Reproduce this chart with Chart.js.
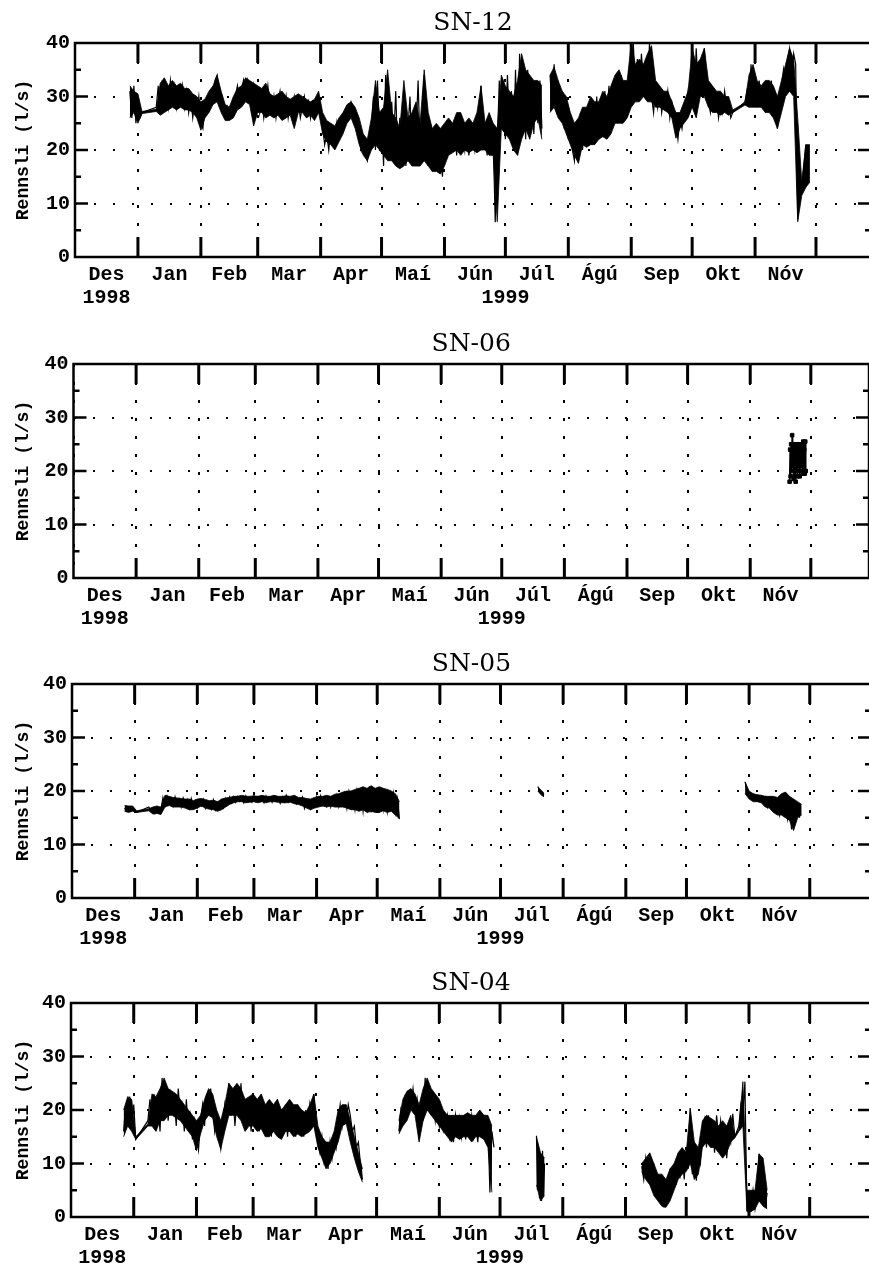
<!DOCTYPE html>
<html><head><meta charset="utf-8">
<script src="https://cdn.jsdelivr.net/npm/chart.js@4.4.1/dist/chart.umd.min.js"></script>
<style>
html,body{margin:0;padding:0;background:#fff;overflow:hidden;width:869px;height:1263px;position:relative}
.panel{position:absolute;left:0;width:874px;height:313px}
</style></head><body>
<div class="panel" style="top:0px"><canvas id="c0"></canvas></div>
<div class="panel" style="top:321px"><canvas id="c1"></canvas></div>
<div class="panel" style="top:641px"><canvas id="c2"></canvas></div>
<div class="panel" style="top:960px"><canvas id="c3"></canvas></div>
<script>
// ---- axis data (x = days since 1 Dec 1998) ----
const monthStarts = [0,31,62,90,121,151,182,212,243,274,304,335,365];
const monthLabels = ['Des','Jan','Feb','Mar','Apr','Maí','Jún','Júl','Ágú','Sep','Okt','Nóv'];
const yearLabels = ['1998','1999'];
const yearDays = [15.5, 212];
const yMajorTicks = [10,20,30];
const yMinorTicks = [5,15,25,35];
const titles = ['SN-12','SN-06','SN-05','SN-04'];
const yTitle = 'Rennsli (l/s)';

// ================= SN-12 =================
// dense core of the trace: upper / lower envelope every 2 days
const sn12BandStart = [27, 40, 234, 330];
const sn12BandStep  = [2, 2, 2, 2];
const sn12BandJoin  = [false, true, false, true];
const sn12HiA = [32,31,30.5,27.2];
const sn12LoA = [26,27,25,26.8];
const sn12HiB = [27.6,32.5,33.5,32,33,32,32.5,31.5,31.5,30.5,
 30,29,29.5,31,32,34,31,28.5,28,30,
 31.5,32,33.5,33,32.5,32,31.5,32.5,30.5,30,
 30.5,31,30,29.5,30,30.5,30,29.5,29,29.5,
 31,27,25.5,25,24.5,26,27,28.5,29,28,
 26,23,22,26,33,27,28,35,27,26,
 24,33,26,27,29,25,35,27,24,25,
 24,25,26,25,27,27,25,26,25,27,
 32,25,27,25,24,34,32,31,30,33,
 38,35,34,33,33,32];
const sn12LoB = [27.2,26.5,27,27.5,28,27.5,28,27.5,27.5,27,
 26,23.7,26,27,28.5,29,27,25.5,25.5,26,
 27.5,28,29,28.5,24.5,27,27,26,26.5,26,
 26.5,25.5,26,26.5,24,27,27,26,26.5,25.5,
 27,23,21.5,21,20,21.5,23,25,26,24,
 21,19,18,20,21,20,19,18,18,17,
 16.5,17,18,17,17,17,18,17,16,16,
 15.5,17,19,19.5,20,19,20,19.5,20,19.5,
 20,20,19,19,6.6,24,23,22,20,19,
 22,24,22,25,26,22];
const sn12HiC = [34,35.5,33,31,30,27,25,26,28,28,
 30,29,29,31,30,32,34,35,33,33,
 40,36,37,36,38,39.5,33,32,31,31,
 29,27,27,29,31,39,36,37,39,33,
 32,31,31,30,30,27.5];
const sn12LoC = [27,28,26,25,23,21,19,17.5,21,20.5,
 21,21,22,22.5,22,23,25,25,25,26,
 28,29,29,30,29,29,28,28,27.5,27,
 26,22.2,24,25,26,28,26,30,30,28,
 27,27,26.5,27,26.5,27];
const sn12HiD = [28.8,34,36,33,32,33,33,32,30,33,36,39,37,26,14,21,21];
const sn12LoD = [28.4,28,28,28,28,27,27,26,24,27,30,31,30,6.6,11.5,13,14];
// daily readings (spikes of the trace)
const sn12TraceStart = [27, 40, 234, 330];
const sn12TraceStep  = [1, 1, 1, 1];
const sn12TraceJoin  = [false, true, false, true];
const sn12DayA = [31,26,32,25,30,26,27];
const sn12DayB = [28,32,27,33,29,31,28,33,30,32,28,31,29,32,28,31,
 27,30,26,29,27,30,25,24,28,27,
 29,31,30,33,34,31,29,
 27,26,28,26,27,29,
 30,32,29,31,33,30,33,31,29,32,
 28,31,27,30,26,29,32,28,27,30,26,29,31,28,27,30,26,29,28,30,27,29,26,
 28,30,27,29,26,29,28,27,30,28,
 24,21,23,20,24,22,21,25,22,23,24,
 26,28,27,29,28,27,25,
 23,20,22,19,18,21,
 24,30,20,33,22,27,17,34,25,19,29,22,31,18,26,21,28,17,24,30,19,27,23,33,20,26,34,22,17,24,16,
 22,18,24,20,15,23,19,25,21,20,24,19,26,21,23,20,25,19,22,24,20,23,21,32,20,24,19,23,20,22,6.5,
 21,33,24,30,22,34,25,31,21,35,19,38,24,32,22,35,26,33,23,31,25,33,24];
const sn12DayC = [34,28,36,29,33,27,31,
 24,28,22,26,20,18,25,21,27,20,25,21,
 27,22,29,23,30,22,28,24,31,25,32,26,30,25,33,27,34,28,32,27,35,
 31,40,32,37,30,38,33,36,31,40,
 30,27,32,28,31,27,30,28,31,26,29,27,
 25,22,26,24,27,
 28,31,27,34,29,39,31,36,30,39,32,
 29,27,31,28,30,26,29,27,31,28,29,26,27];
const sn12DayD = [29,31,28,36,29,32,28,33,29,31,
 28,32,27,33,28,30,24,29,
 32,35,31,37,39,34,38,36,
 7,12,13,17,21,14];

// ================= SN-06 =================
const sn06Start = [354.5];
const sn06Step  = [0.25];
const sn06Join  = [false];
const sn06a = [18,24,19,25,20,26.7,21,24,18.5,25,19,23,18,25,20,24,19,25,21,23,19,25,20,24,21,25,19.5,25.5,20,24,19.5,25.5,20];

// ================= SN-05 =================
const sn05BandStart = [26, 38, 230.5, 333];
const sn05BandStep  = [2, 2, 1.5, 2];
const sn05BandJoin  = [false, true, false, false];
const sn05HiA = [17.3,17.2,17.2,16.3];
const sn05LoA = [16.2,16,16.2,16.0];
const sn05HiB = [16.7,17,17.2,17,19.2,19,18.8,18.7,18.6,18.5,
 18.5,18.2,18.5,18.6,18.4,18.2,18.3,18,18.5,18.7,
 18.8,19,19,19.2,19,19,19.1,19,19.2,19,
 19,19.2,19,19,19.1,19,19.2,18.8,18.8,18.6,
 18.5,18.8,19,19,19.2,19,19.4,19.5,19.8,20,
 20,20.3,20.5,20.8,20.5,21,20.5,20.8,20.5,20.3,
 20,19.5,18];
const sn05LoB = [16.3,15.7,15.8,15.6,17,17.3,17,17,17,16.8,
 16.5,16.5,16.8,17.2,16.8,16.6,16.5,16.2,16.5,17,
 17.5,17.8,18,18,17.8,17.9,18,17.8,18,17.8,
 18,18,17.9,17.8,17.8,17.9,17.6,17.5,17.2,16.8,
 16.5,16.8,17,17.2,17,17.2,17,17,17,16.8,
 16.5,16.5,16.2,16.5,16,16.2,16,16,16.3,16,
 16.2,15.5,14.8];
const sn05HiC = [20.8,20.2,19.6];
const sn05LoC = [20.0,19.3,18.9];
const sn05HiD = [21.7,20,19.5,19.3,19.2,19,19,19,18.8,19.5,19.8,19,18.5,18,17.5];
const sn05LoD = [19.5,18.5,18,18,17.8,17,16.8,16,15.5,15.5,15,14.5,12.6,15,15.5];
const sn05TraceStart = [26, 38, 230.5, 333];
const sn05TraceStep  = [1, 1, 1, 1];
const sn05TraceJoin  = [false, true, false, false];
const sn05DayA = [16.8,16.3,17.0,16.5,16.9,16.2,16.0];
const sn05DayB = [17.0,16.2,16.8,15.8,16.9,16.0,16.5,
 18.8,17.3,19.0,17.5,18.6,17.2,18.9,17.4,18.5,17.0,18.7,17.6,18.4,16.8,18.6,17.3,18.2,16.9,18.0,
 17.2,18.4,16.8,18.1,17.5,16.6,18.3,16.5,17.9,17.0,18.2,16.9,18.6,17.6,18.9,17.8,
 18.9,17.9,19.0,18.1,18.8,17.8,19.1,18.2,18.7,17.9,19.0,18.0,18.9,18.2,18.6,17.8,19.1,18.3,18.8,17.9,19.0,18.1,18.7,17.7,18.9,18.0,19.2,17.9,18.6,18.2,18.8,17.6,18.5,
 17.5,18.8,16.8,18.3,17.2,16.6,18.0,17.3,18.9,17.6,19.1,17.4,18.7,17.2,18.5,17.0,18.8,
 17.4,19.2,17.1,18.9,17.5,19.5,16.8,19.8,17.2,19.0,16.5,20.0,17.0,19.6,16.2,20.3,
 16.8,20.8,16.0,19.5,17.3,20.5,15.9,19.8,16.6,20.2,16.2,19.3,17.0,19.6,16.0,18.5,14.8];
const sn05DayC = [20.8,20.0,19.6,19.2];
const sn05DayD = [21.7,20.2,19.5,18.6,19.4,18.5,19.2,18.3,19.0,17.6,18.8,17.0,18.5,16.8,18.0,16.3,17.8,15.5,17.9,16.0,18.6,14.8,17.5,12.8,17.2,14.5,16.8,15.0];

// ================= SN-04 =================
const sn04BandStart = [26, 38, 162, 230, 282, 330];
const sn04BandStep  = [2, 2, 2, 2, 2, 2];
const sn04BandJoin  = [false, true, false, false, false, true];
const sn04HiA = [20,22.5,22,15];
const sn04LoA = [15,17,16,14.5];
const sn04HiB = [17.4,23,22.5,24,26,24,23.5,23,22,21,
 20,19,18,19,22,24,23,20,18,21,
 25,24,25,24,22,22.5,23,22,23,21,
 22,21,22,20,21,22,21,21,20,19.5,
 21,23,17,15,14,14,16,20,21,21,
 18,15,12,9];
const sn04LoB = [17,17,16,18,18,19,19,18.5,18,17,
 16,15,12.4,15.5,18,19,18.5,15,12.7,16,
 19,19,19,18,16,17,17,16,16.5,15,
 15,16,15,14.5,16,16,15,15.5,15,15.5,
 16,17,13,11,9,10,12,14,17,17.5,
 14,11,8.5,6.5];
const sn04HiC = [18,22,23.5,24,23,21,24,26,24,23,
 22,20,19,19,19,19,19,19.5,19,19,
 20,19,19,17];
const sn04LoC = [15.5,17,18,20,19,14,18,20,19,18,
 17,16,15,14,15,14.5,15,15,14,15,
 15,14.5,13,4.6];
const sn04HiD = [15,12,11];
const sn04LoD = [6,3,4];
const sn04HiE = [10,11,12,10,8,8,7,9,10,12,
 13,12,20.3,14,13,18,19,18.5,18,17,
 18,17,19,15.2];
const sn04LoE = [8.5,7,6,4,3,2,1.8,3,5,7,
 8,8.5,10,7,8,13,14,13,13,12,
 11,12,14,14.8];
const sn04HiF = [16.4,25.3,5,5,5,11.8,11,5];
const sn04LoF = [16,17,1,1,1.5,3,2,1.5];
const sn04TraceStart = [26, 38, 162, 230, 282, 330];
const sn04TraceStep  = [1, 1, 1, 0.5, 1, 1];
const sn04TraceJoin  = [false, true, false, false, false, true];
const sn04DayA = [16,21,17,22.5,18,21,14.5];
const sn04DayB = [18,22,17,23,19,21,16,26,19,24,18,23,20,22,17,24,19,21,16,22,
 16,19,14.5,18,15,12.5,
 18,21,17,23,19,24,20,
 16,19,15,12.7,17,
 21,18,25,19,23,17,22,19,25,18,
 22,17,21,16,23,18,20,16,22,17,21,
 16,21,15,20,17,22,15,19,17,21,15,20,
 16,20,15,21,17,19,15,20,16,21,18,23,17,
 14,12,15,10.5,13,9,14,11,
 15,13,18,21,17,20,18,21,
 19,16,17,13,14,10,7];
const sn04DayC = [16,20,18,22,19,23,21,24,20,22,14.5,21,18,26,20,
 24,19,23,18,21,17,20,16,
 17,19,15,18,14,19,16,18.5,15,19,14.5,18,16,19,15,18,14,19,16,18.5,15,17.5,
 4.6,16,13];
const sn04DayD = [15.2,5,12,3.5,11,3,12.4,4,10];
const sn04DayE = [9.5,7,11,8,11.5,6,10,4,8,3,7,1.8,6,3,9,
 5,10,6,11,8,12,7,13,9,20.3,
 8,14,6.8,12,10,
 15,18,13,19,14,17,12,19,15,18,13,17,11,16,14,
 19.3,15];
const sn04DayF = [17,21,19,25.3,1.1,4,2,5,1.5,4,11.8,6,10,2,4.5];

const series = [
  {band: {start: sn12BandStart, step: sn12BandStep, join: sn12BandJoin},
   hi: [sn12HiA, sn12HiB, sn12HiC, sn12HiD], lo: [sn12LoA, sn12LoB, sn12LoC, sn12LoD],
   trace: {start: sn12TraceStart, step: sn12TraceStep, join: sn12TraceJoin}, days: [sn12DayA, sn12DayB, sn12DayC, sn12DayD]},
  {trace: {start: sn06Start, step: sn06Step, join: sn06Join}, days: [sn06a], marker: true},
  {band: {start: sn05BandStart, step: sn05BandStep, join: sn05BandJoin},
   hi: [sn05HiA, sn05HiB, sn05HiC, sn05HiD], lo: [sn05LoA, sn05LoB, sn05LoC, sn05LoD],
   trace: {start: sn05TraceStart, step: sn05TraceStep, join: sn05TraceJoin}, days: [sn05DayA, sn05DayB, sn05DayC, sn05DayD]},
  {band: {start: sn04BandStart, step: sn04BandStep, join: sn04BandJoin},
   hi: [sn04HiA, sn04HiB, sn04HiC, sn04HiD, sn04HiE, sn04HiF], lo: [sn04LoA, sn04LoB, sn04LoC, sn04LoD, sn04LoE, sn04LoF],
   trace: {start: sn04TraceStart, step: sn04TraceStep, join: sn04TraceJoin}, days: [sn04DayA, sn04DayB, sn04DayC, sn04DayD, sn04DayE, sn04DayF]}
];

// ---- layout (pixels) ----
const panelLeft = [75, 73.5, 72, 71];
const xMax = [392.1, 393.8, 395.3, 395.3];

function buildPoints(g, segs) {
  const pts = [];
  segs.forEach((seg, k) => {
    if (k > 0 && !g.join[k]) pts.push({x: g.start[k] - 0.3, y: null});
    seg.forEach((v, i) => pts.push({x: g.start[k] + i * g.step[k], y: v}));
  });
  return pts;
}

const boundarySet = new Set(monthStarts);
const xTickValues = [];
monthStarts.forEach(v => xTickValues.push(v));
for (let i = 0; i < monthLabels.length; i++) xTickValues.push((monthStarts[i] + monthStarts[i + 1]) / 2);
xTickValues.sort((a, b) => a - b);

function xLabel(v) {
  for (let i = 0; i < monthLabels.length; i++) {
    const mid = (monthStarts[i] + monthStarts[i + 1]) / 2;
    if (Math.abs(v - mid) < 1e-6) {
      const yi = yearDays.indexOf(mid);
      return yi >= 0 ? [monthLabels[i], yearLabels[yi]] : monthLabels[i];
    }
  }
  const yi = yearDays.indexOf(v);
  if (yi >= 0) return ['', yearLabels[yi]];
  return '';
}

const frame = {
  id: 'frame',
  beforeDatasetsDraw(chart) {
    const {ctx, chartArea: a, scales: {x, y}} = chart;
    ctx.save();
    ctx.strokeStyle = '#000';
    ctx.lineCap = 'butt';
    ctx.lineWidth = 3;
    ctx.beginPath();
    monthStarts.forEach(v => {
      if (v <= 0) return;
      const px = x.getPixelForValue(v);
      if (px > a.right) return;
      ctx.moveTo(px, a.bottom); ctx.lineTo(px, a.bottom - 20);
      ctx.moveTo(px, a.top); ctx.lineTo(px, a.top + 20);
    });
    ctx.stroke();
    ctx.lineWidth = 2.5;
    ctx.beginPath();
    yMajorTicks.forEach(v => {
      const py = y.getPixelForValue(v);
      ctx.moveTo(a.left, py); ctx.lineTo(a.left + 13, py);
      ctx.moveTo(a.right, py); ctx.lineTo(a.right - 13, py);
    });
    yMinorTicks.forEach(v => {
      const py = y.getPixelForValue(v);
      ctx.moveTo(a.left, py); ctx.lineTo(a.left + 6, py);
      ctx.moveTo(a.right, py); ctx.lineTo(a.right - 6, py);
    });
    ctx.stroke();
    ctx.lineWidth = 2.5;
    ctx.strokeRect(a.left, a.top, a.right - a.left, a.bottom - a.top);
    ctx.restore();
  }
};

const tickFont = {family: "'Liberation Mono', monospace", size: 20, weight: 'bold', lineHeight: 1.15};

series.forEach((s, p) => {
  const datasets = [];
  if (s.band) {
    datasets.push({data: buildPoints(s.band, s.hi), borderColor: '#000', borderWidth: 0.8, pointRadius: 0, spanGaps: false, tension: 0, fill: false});
    datasets.push({data: buildPoints(s.band, s.lo), borderColor: '#000', borderWidth: 0.8, pointRadius: 0, spanGaps: false, tension: 0,
      fill: '-1', backgroundColor: '#000'});
  }
  if (s.marker) {
    datasets.push({
      data: buildPoints(s.trace, s.days), borderColor: '#000', borderWidth: 1.5,
      pointRadius: 2.5, pointStyle: 'rect', pointBackgroundColor: '#000', pointBorderColor: '#000', pointBorderWidth: 1,
      spanGaps: false, tension: 0, fill: false
    });
  } else {
    datasets.push({data: buildPoints(s.trace, s.days), borderColor: '#000', borderWidth: 1.2, pointRadius: 0, spanGaps: false, tension: 0, fill: false});
  }
  new Chart(document.getElementById('c' + p), {
    type: 'line',
    data: {datasets},
    options: {
      responsive: true,
      maintainAspectRatio: false,
      animation: false,
      events: [],
      layout: {padding: {top: 0, left: 0, right: 3, bottom: 0}},
      plugins: {
        legend: {display: false},
        tooltip: {enabled: false},
        title: {
          display: true, text: titles[p], fullSize: false,
          color: '#000',
          font: {family: "'DejaVu Serif', serif", size: 25, weight: 'normal', lineHeight: 1},
          padding: {top: 11, bottom: 7}
        }
      },
      scales: {
        x: {
          type: 'linear', min: 0, max: xMax[p],
          afterBuildTicks: sc => { sc.ticks = xTickValues.map(v => ({value: v})); },
          afterFit: sc => { sc.height = 56; },
          ticks: {
            autoSkip: false, maxRotation: 0, minRotation: 0, padding: 6,
            color: '#000', font: tickFont,
            callback: v => xLabel(v)
          },
          grid: {
            drawTicks: false, lineWidth: 2,
            color: c => (c.tick && boundarySet.has(c.tick.value)) ? '#000' : 'rgba(0,0,0,0)'
          },
          border: {display: false, dash: [3, 15]}
        },
        y: {
          type: 'linear', min: 0, max: 40,
          afterFit: sc => { sc.width = panelLeft[p]; },
          ticks: {stepSize: 10, padding: 5, color: '#000', font: tickFont},
          grid: {drawTicks: false, lineWidth: 2, color: '#000'},
          border: {display: false, dash: [2, 17]},
          title: {
            display: true, text: yTitle, color: '#000',
            font: {family: "'Liberation Mono', monospace", size: 18, weight: 'bold', lineHeight: 1.2},
            padding: {top: 13, bottom: 0}
          }
        }
      }
    },
    plugins: [frame]
  });
});
</script>
</body></html>
